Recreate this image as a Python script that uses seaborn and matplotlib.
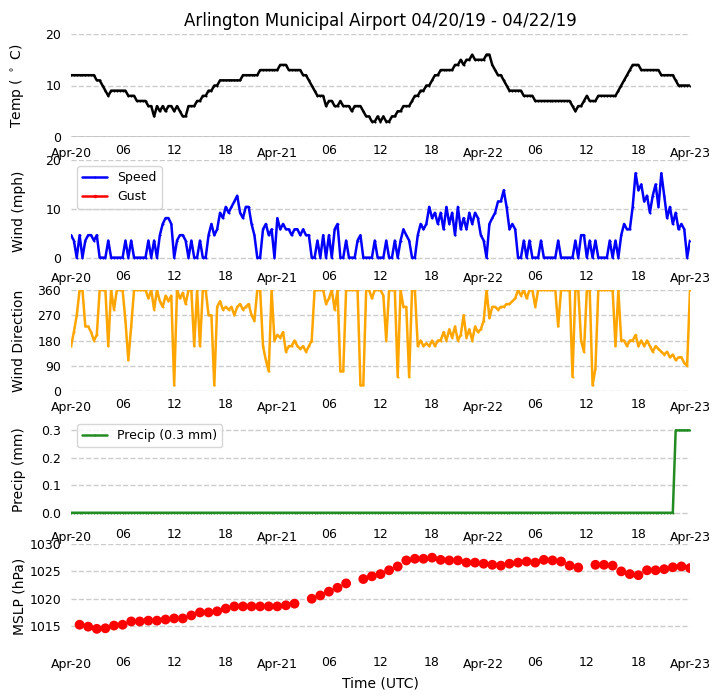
import numpy as np
import pandas as pd
import matplotlib
matplotlib.use("Agg")
import matplotlib.pyplot as plt
import matplotlib.dates as mdates
import seaborn as sns

# ---------------- data ----------------
# 20-minute base, Apr-20 00:00 .. Apr-23 00:00 (217 samples)
temp_c = [
    12, 12, 12, 12, 12, 12, 12, 12, 12, 11, 11, 10, 9, 8, 9, 9, 9, 9, 9, 9, 8, 8, 8, 7,
    7, 7, 7, 6, 6, 4, 6, 5, 6, 5, 6, 6, 5, 6, 5, 4, 4, 6, 6, 6, 7, 7, 8, 8,
    9, 9, 10, 10, 11, 11, 11, 11, 11, 11, 11, 11, 12, 12, 12, 12, 12, 12, 13, 13, 13, 13, 13, 13,
    13, 14, 14, 14, 13, 13, 13, 13, 13, 12, 12, 11, 10, 9, 8, 8, 8, 6, 7, 7, 6, 6, 7, 6,
    6, 6, 5, 6, 6, 6, 5, 4, 4, 3, 3, 4, 3, 4, 3, 3, 4, 4, 5, 5, 6, 6, 6, 7,
    8, 8, 9, 9, 10, 10, 11, 12, 12, 13, 13, 13, 13, 13, 14, 14, 15, 14, 15, 15, 16, 15, 15, 15,
    15, 16, 16, 14, 13, 12, 12, 11, 10, 9, 9, 9, 9, 9, 8, 8, 8, 8, 7, 7, 7, 7, 7, 7,
    7, 7, 7, 7, 7, 7, 7, 6, 5, 6, 6, 7, 8, 7, 7, 7, 8, 8, 8, 8, 8, 8, 8, 9,
    10, 11, 12, 13, 14, 14, 14, 13, 13, 13, 13, 13, 13, 13, 12, 12, 12, 12, 12, 11, 10, 10, 10, 10,
    10,
]

speed_mph = [
    4.6, 3.5, 0, 4.6, 0, 3.5, 4.6, 4.6, 3.5, 4.6, 0, 0, 0, 3.5, 0, 0, 0, 0, 0, 3.5, 0, 3.5, 0, 0,
    0, 0, 0, 3.5, 0, 3.5, 0, 4.6, 6.9, 8.1, 8.1, 6.9, 0, 3.5, 4.6, 4.6, 3.5, 0, 3.5, 0, 0, 3.5, 0, 0,
    4.6, 6.9, 4.6, 5.8, 9.2, 8.1, 10.4, 9.2, 10.4, 11.5, 12.7, 9.2, 8.1, 10.4, 10.4, 6.9, 4.6, 0, 0, 5.8, 6.9, 4.6, 5.8, 0,
    8.1, 5.8, 6.9, 5.8, 5.8, 4.6, 5.8, 5.8, 4.6, 5.8, 4.6, 4.6, 0, 0, 3.5, 0, 4.6, 0, 4.6, 0, 5.8, 6.9, 0, 0,
    3.5, 0, 0, 0, 3.5, 4.6, 0, 0, 0, 0, 3.5, 0, 0, 0, 3.5, 0, 0, 3.5, 0, 3.5, 5.8, 4.6, 3.5, 0,
    0, 4.6, 6.9, 5.8, 6.9, 10.4, 8.1, 9.2, 6.9, 9.2, 5.8, 10.4, 6.9, 9.2, 4.6, 10.4, 5.8, 8.1, 5.8, 9.2, 6.9, 9.2, 8.1, 4.6,
    3.5, 0, 6.9, 8.1, 9.2, 11.5, 11.5, 13.8, 10.4, 5.8, 6.9, 5.8, 0, 0, 3.5, 0, 3.5, 0, 0, 0, 3.5, 0, 0, 0,
    0, 0, 3.5, 0, 0, 0, 0, 0, 3.5, 0, 4.6, 4.6, 0, 3.5, 0, 3.5, 0, 0, 0, 0, 3.5, 0, 3.5, 0,
    4.6, 6.9, 5.8, 5.8, 10.4, 17.3, 13.8, 15.0, 11.5, 12.7, 9.2, 12.7, 15.0, 10.4, 17.3, 12.7, 8.1, 10.4, 6.9, 9.2, 5.8, 6.9, 5.8, 0,
    3.5,
]

# no gusts were reported in the period
gust_times = []
gust_mph = []

direction_deg = [
    160, 210, 270, 360, 360, 230, 230, 210, 180, 200, 360, 360, 360, 160, 360, 290, 360, 360, 360, 250, 110, 230, 360, 360,
    360, 360, 360, 330, 360, 290, 360, 320, 300, 340, 320, 340, 20, 360, 330, 350, 310, 360, 360, 160, 360, 160, 360, 360,
    270, 270, 20, 300, 320, 290, 300, 290, 300, 270, 300, 310, 290, 300, 310, 270, 250, 360, 360, 160, 110, 70, 360, 180,
    200, 190, 210, 140, 160, 160, 180, 160, 150, 160, 140, 160, 180, 360, 360, 360, 360, 310, 330, 360, 290, 360, 70, 70,
    360, 360, 360, 360, 360, 20, 20, 360, 360, 330, 360, 360, 360, 340, 180, 360, 360, 360, 50, 360, 300, 300, 50, 360,
    360, 160, 180, 160, 170, 160, 180, 160, 180, 180, 210, 180, 220, 190, 230, 180, 200, 270, 190, 220, 180, 230, 210, 220,
    250, 360, 260, 300, 300, 290, 300, 300, 310, 310, 320, 330, 360, 340, 360, 330, 360, 360, 300, 360, 360, 360, 360, 360,
    360, 360, 230, 360, 360, 360, 360, 50, 360, 360, 180, 140, 360, 360, 20, 80, 360, 360, 360, 360, 360, 360, 160, 360,
    180, 180, 160, 180, 180, 200, 160, 180, 160, 180, 160, 140, 160, 150, 140, 130, 140, 120, 130, 110, 120, 120, 100, 90,
    360,
]

precip_mm = [
    0.0, 0.0, 0.0, 0.0, 0.0, 0.0, 0.0, 0.0, 0.0, 0.0, 0.0, 0.0, 0.0, 0.0, 0.0, 0.0, 0.0, 0.0, 0.0, 0.0, 0.0, 0.0, 0.0, 0.0,
    0.0, 0.0, 0.0, 0.0, 0.0, 0.0, 0.0, 0.0, 0.0, 0.0, 0.0, 0.0, 0.0, 0.0, 0.0, 0.0, 0.0, 0.0, 0.0, 0.0, 0.0, 0.0, 0.0, 0.0,
    0.0, 0.0, 0.0, 0.0, 0.0, 0.0, 0.0, 0.0, 0.0, 0.0, 0.0, 0.0, 0.0, 0.0, 0.0, 0.0, 0.0, 0.0, 0.0, 0.0, 0.0, 0.0, 0.0, 0.0,
    0.0, 0.0, 0.0, 0.0, 0.0, 0.0, 0.0, 0.0, 0.0, 0.0, 0.0, 0.0, 0.0, 0.0, 0.0, 0.0, 0.0, 0.0, 0.0, 0.0, 0.0, 0.0, 0.0, 0.0,
    0.0, 0.0, 0.0, 0.0, 0.0, 0.0, 0.0, 0.0, 0.0, 0.0, 0.0, 0.0, 0.0, 0.0, 0.0, 0.0, 0.0, 0.0, 0.0, 0.0, 0.0, 0.0, 0.0, 0.0,
    0.0, 0.0, 0.0, 0.0, 0.0, 0.0, 0.0, 0.0, 0.0, 0.0, 0.0, 0.0, 0.0, 0.0, 0.0, 0.0, 0.0, 0.0, 0.0, 0.0, 0.0, 0.0, 0.0, 0.0,
    0.0, 0.0, 0.0, 0.0, 0.0, 0.0, 0.0, 0.0, 0.0, 0.0, 0.0, 0.0, 0.0, 0.0, 0.0, 0.0, 0.0, 0.0, 0.0, 0.0, 0.0, 0.0, 0.0, 0.0,
    0.0, 0.0, 0.0, 0.0, 0.0, 0.0, 0.0, 0.0, 0.0, 0.0, 0.0, 0.0, 0.0, 0.0, 0.0, 0.0, 0.0, 0.0, 0.0, 0.0, 0.0, 0.0, 0.0, 0.0,
    0.0, 0.0, 0.0, 0.0, 0.0, 0.0, 0.0, 0.0, 0.0, 0.0, 0.0, 0.0, 0.0, 0.0, 0.0, 0.0, 0.0, 0.0, 0.0, 0.3, 0.3, 0.3, 0.3, 0.3,
    0.3,
]

# hourly MSLP, hours 1..72 after Apr-20 00 UTC (NaN = missing report)
mslp_hpa = [
    1015.25, 1014.9, 1014.5, 1014.6, 1015.1, 1015.25, 1015.85, 1015.85, 1016.0, 1016.0, 1016.2, 1016.4,
    1016.4, 1016.95, 1017.5, 1017.5, 1017.7, 1018.2, 1018.6, 1018.6, 1018.6, 1018.6, 1018.6, 1018.6,
    1018.8, 1019.1, np.nan, 1020.0, 1020.6, 1021.3, 1022.0, 1022.8, np.nan, 1023.6, 1024.1, 1024.5,
    1025.2, 1025.9, 1027.0, 1027.3, 1027.3, 1027.5, 1027.1, 1027.0, 1027.0, 1026.6, 1026.6, 1026.4,
    1026.2, 1026.05, 1026.4, 1026.6, 1026.8, 1026.6, 1027.1, 1027.0, 1026.8, 1026.05, 1025.7, np.nan,
    1026.2, 1026.2, 1026.05, 1025.0, 1024.5, 1024.3, 1025.2, 1025.2, 1025.4, 1025.75, 1025.9, 1025.6,
]

title = "Arlington Municipal Airport 04/20/19 - 04/22/19"
precip_label = "Precip (0.3 mm)"

# ---------------- time axes ----------------
t0 = pd.Timestamp("2019-04-20 00:00")
t1 = pd.Timestamp("2019-04-23 00:00")
t20 = pd.date_range(t0, periods=len(temp_c), freq="20min")
t_hourly = pd.date_range(t0 + pd.Timedelta(hours=1), periods=len(mslp_hpa), freq="h")

# ---------------- style ----------------
sns.set_theme(style="whitegrid", rc={
    "grid.linestyle": "--",
    "grid.color": "#cccccc",
    "grid.linewidth": 1.0,
    "xtick.labelsize": 9,
    "ytick.labelsize": 9,
    "axes.labelsize": 10,
    "axes.titlesize": 12,
    "legend.fontsize": 9,
    "text.color": "black",
    "axes.labelcolor": "black",
    "xtick.color": "black",
    "ytick.color": "black",
    "xtick.bottom": False,
    "ytick.left": False,
    "xtick.major.size": 3.5,
    "xtick.minor.size": 2.0,
    "xtick.major.pad": 3.5,
    "xtick.minor.pad": 3.4,
    "ytick.major.size": 3.5,
    "ytick.major.pad": 3.5,
    "legend.edgecolor": "#cccccc",
})
plt.rcParams["font.family"] = ["DejaVu Sans"]

W, H = 720, 700
fig = plt.figure(figsize=(W / 100, H / 100), dpi=100)


def add_axes(top, bottom):
    return fig.add_axes([71 / W, 1 - bottom / H, 619 / W, (bottom - top) / H])


ax1 = add_axes(34, 137)
ax2 = add_axes(160, 262)
ax3 = add_axes(290, 391)
ax4 = add_axes(418, 521)
ax5 = add_axes(544, 648)

line_kw = dict(lw=1.8, marker=".", markersize=3, markeredgewidth=0, errorbar=None)

sns.lineplot(x=t20, y=temp_c, ax=ax1, color="black", **line_kw)
ax1.axhline(0, color="black", lw=1.0)

sns.lineplot(x=t20, y=speed_mph, ax=ax2, color="blue", label="Speed", **line_kw)
ax2.plot(gust_times, gust_mph, color="red", lw=1.8, marker=".", markersize=3, label="Gust")
ax2.legend(loc="upper left")

sns.lineplot(x=t20, y=direction_deg, ax=ax3, color="orange", **line_kw)

sns.lineplot(x=t20, y=precip_mm, ax=ax4, color="forestgreen", label=precip_label, **line_kw)
ax4.legend(loc="upper left")

sns.scatterplot(x=t_hourly, y=mslp_hpa, ax=ax5, color="red", s=50, edgecolor="none", linewidth=0)

# ---------------- axes cosmetics ----------------
ax1.set_ylim(0, 20)
ax1.set_yticks([0, 10, 20])
ax2.set_ylim(-0.9, 20)
ax2.set_yticks([0, 10, 20])
ax3.set_ylim(0, 360)
ax3.set_yticks([0, 90, 180, 270, 360])
ax4.set_ylim(-0.03, 0.345)
ax4.set_yticks([0.0, 0.1, 0.2, 0.3])
ax5.set_ylim(1011, 1030)
ax5.set_yticks([1015, 1020, 1025, 1030])

ylabels = ["Temp ( $^\\circ$ C)", "Wind (mph)", "Wind Direction", "Precip (mm)", "MSLP (hPa)"]
for ax, lab in zip([ax1, ax2, ax3, ax4, ax5], ylabels):
    ax.set_xlim(t0, t1)
    ax.xaxis.set_major_locator(mdates.DayLocator())
    ax.xaxis.set_major_formatter(mdates.DateFormatter("%b-%d"))
    ax.xaxis.set_minor_locator(mdates.HourLocator(byhour=[6, 12, 18]))
    ax.xaxis.set_minor_formatter(mdates.DateFormatter("%H"))
    ax.xaxis.grid(False)
    ax.yaxis.grid(True, which="major")
    sns.despine(ax=ax, left=True, bottom=True)
    ax.set_xlabel("")
    ax.set_ylabel(lab)
    ax.yaxis.set_label_coords(-0.072, 0.5)

ax1.set_title(title)
ax5.set_xlabel("Time (UTC)")

fig.savefig("out.png", dpi=100)
